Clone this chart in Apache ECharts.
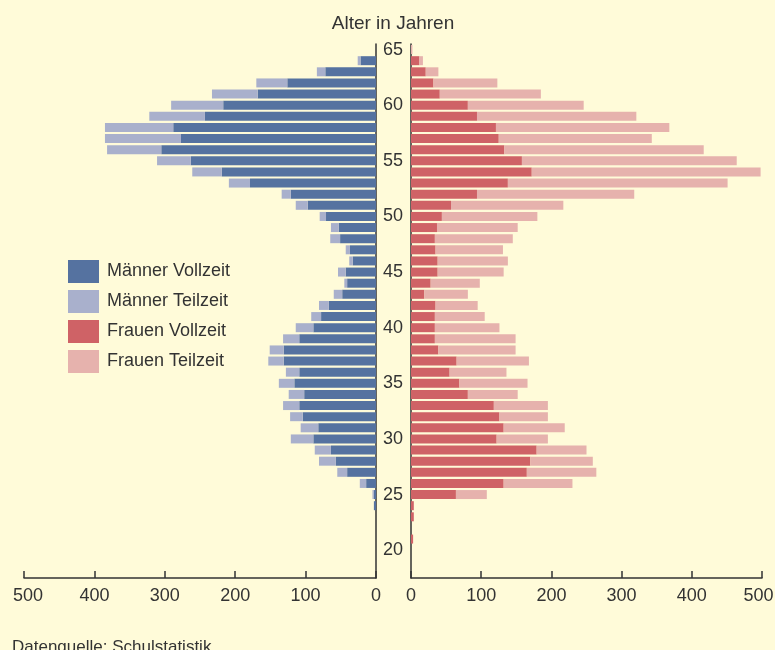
<!DOCTYPE html>
<html>
<head>
<meta charset="utf-8">
<script src="https://cdn.jsdelivr.net/npm/echarts@6/dist/echarts.min.js"></script>
<style>
  html, body { margin: 0; padding: 0; background: #fffbd9; }
  #chart { width: 775px; height: 650px; }
</style>
</head>
<body>
<div id="chart"></div>
<script>
// Alter 18 .. 65 (unten nach oben)
var ages = []
for (var a = 18; a <= 65; a++) ages.push(String(a))

var maennerVollzeit = [0, 0, 0, 0, 0, 0, 3, 3, 14, 41, 57, 64, 89, 82, 104, 109, 102, 116, 109, 131, 131, 109, 89, 78,
  67, 48, 41, 43, 33, 37, 51, 53, 71, 97, 121, 179, 219, 263, 305, 277, 288, 243, 217, 168, 126, 72, 22, 0]
var maennerTeilzeit = [0, 0, 0, 0, 0, 0, 0, 2, 9, 14, 24, 23, 32, 25, 18, 23, 22, 22, 19, 22, 20, 23, 25, 14,
  14, 12, 4, 11, 5, 6, 14, 11, 9, 17, 13, 30, 42, 48, 77, 108, 97, 79, 74, 65, 44, 12, 4, 0]
var frauenVollzeit = [0, 0, 0, 3, 0, 4, 4, 64, 132, 165, 170, 179, 122, 132, 126, 118, 81, 69, 55, 65, 39, 34, 34, 34,
  35, 19, 28, 38, 38, 35, 34, 37, 44, 57, 94, 138, 172, 158, 133, 125, 121, 94, 81, 41, 32, 21, 12, 0]
var frauenTeilzeit = [0, 0, 0, 0, 0, 0, 0, 44, 98, 99, 89, 71, 73, 87, 69, 77, 71, 97, 81, 103, 110, 115, 92, 71,
  60, 62, 70, 94, 100, 96, 111, 115, 136, 160, 224, 313, 326, 306, 284, 218, 247, 227, 165, 144, 91, 18, 5, 2]

var colors = ['#5572a0', '#a9b0cc', '#cf6266', '#e6b2ad']
var textColor = '#333333'
var font = 'Liberation Sans, Arial, sans-serif'

var chart = echarts.init(document.getElementById('chart'))

function valueAxis(grid, inverse) {
  return {
    type: 'value',
    gridIndex: grid,
    inverse: inverse,
    min: 0,
    max: 500,
    interval: 100,
    axisLine: { show: true, lineStyle: { color: textColor, width: 1.5 } },
    axisTick: { show: true, inside: true, length: 7, lineStyle: { color: textColor, width: 1.5 } },
    splitLine: { show: false },
    axisLabel: {
      color: textColor,
      fontSize: 18,
      fontFamily: font,
      margin: 9,
      // die äußeren 500er etwas nach innen rücken
      formatter: function (v) {
        if (v === 500) return inverse ? '{l|500}' : '{r|500}'
        return String(v)
      },
      rich: {
        l: { fontSize: 18, fontFamily: font, color: textColor, padding: [0, 0, 0, 8] },
        r: { fontSize: 18, fontFamily: font, color: textColor, padding: [0, 7, 0, 0] }
      }
    }
  }
}

function ageAxis(grid, pos, showLabels) {
  return {
    type: 'category',
    gridIndex: grid,
    position: pos,
    data: ages,
    axisLine: { show: true, onZero: false, lineStyle: { color: textColor, width: 1.5 } },
    axisTick: { show: false },
    axisLabel: {
      show: showLabels,
      color: textColor,
      fontSize: 18,
      fontFamily: font,
      margin: 8,
      interval: function (idx, val) { return Number(val) % 5 === 0 }
    }
  }
}

function barSeries(name, data, grid, stack, color) {
  return {
    name: name,
    type: 'bar',
    xAxisIndex: grid,
    yAxisIndex: grid,
    stack: stack,
    barWidth: 9,
    itemStyle: { color: color },
    data: data
  }
}

var option = {
  backgroundColor: '#fffbd9',
  animation: false,
  color: colors,
  grid: [
    { left: 24, right: 399, top: 44, bottom: 72, outerBoundsMode: 'none' },
    { left: 411, right: 13, top: 44, bottom: 72, outerBoundsMode: 'none' }
  ],
  legend: {
    left: 68,
    top: 260,
    padding: 0,
    orient: 'vertical',
    icon: 'rect',
    itemWidth: 31,
    itemHeight: 23,
    itemGap: 7,
    textStyle: { color: textColor, fontSize: 18, fontFamily: font, padding: [0, 0, 0, 3] },
    data: ['Männer Vollzeit', 'Männer Teilzeit', 'Frauen Vollzeit', 'Frauen Teilzeit']
  },
  xAxis: [valueAxis(0, true), valueAxis(1, false)],
  yAxis: [ageAxis(0, 'right', false), ageAxis(1, 'left', true)],
  series: [
    barSeries('Männer Vollzeit', maennerVollzeit, 0, 'm', colors[0]),
    barSeries('Männer Teilzeit', maennerTeilzeit, 0, 'm', colors[1]),
    barSeries('Frauen Vollzeit', frauenVollzeit, 1, 'f', colors[2]),
    barSeries('Frauen Teilzeit', frauenTeilzeit, 1, 'f', colors[3])
  ],
  graphic: [
    {
      type: 'text',
      x: 393,
      y: 24,
      style: {
        text: 'Alter in Jahren',
        fill: textColor,
        fontSize: 19,
        fontFamily: font,
        align: 'center',
        verticalAlign: 'middle'
      }
    },
    {
      type: 'text',
      x: 12,
      y: 639,
      style: {
        text: 'Datenquelle: Schulstatistik.',
        fill: textColor,
        fontSize: 17,
        fontFamily: font
      }
    }
  ]
}

chart.setOption(option)
</script>
</body>
</html>
